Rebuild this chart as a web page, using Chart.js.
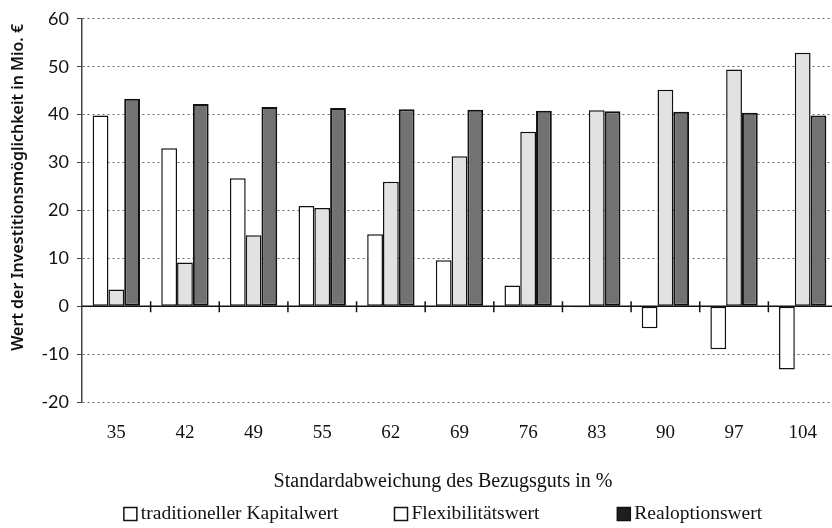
<!DOCTYPE html>
<html>
<head>
<meta charset="utf-8">
<script src="https://cdn.jsdelivr.net/npm/chart.js@4"></script>
<style>
    body { margin: 0; background: #fff; }
    #wrap { width: 832px; height: 528px; overflow: hidden; }
</style>
</head>
<body>
<div id="wrap"><canvas id="chart" width="886" height="528"></canvas></div>
<script>
// Standardabweichung des Bezugsguts in %
const labels = ["35", "42", "49", "55", "62", "69", "76", "83", "90", "97", "104"];

// Werte in Mio. €
const kapitalwert = [39.8, 33.0, 26.7, 20.9, 15.0, 9.6, 4.3, -0.2, -4.6, -9.0, -13.2];
const flexibilitaetswert = [3.5, 9.1, 14.8, 20.5, 26.0, 31.3, 36.4, 40.9, 45.2, 49.4, 52.9];
const realoptionswert = [43.3, 42.2, 41.6, 41.4, 41.1, 41.0, 40.8, 40.7, 40.6, 40.4, 39.8];

const yTicks = { min: -20, max: 60, step: 10 };

const seriesNames = ["traditioneller Kapitalwert", "Flexibilitätswert", "Realoptionswert"];
const legendFills = ["#ffffff", "#ffffff", "#1e1e1e"];

const serif = "'Liberation Serif', 'DejaVu Serif', serif";
const sans = "Lato, 'Noto Sans', sans-serif";
const yTitle = "Wert der Investitionsmöglichkeit in Mio. €";
const xTitle = "Standardabweichung des Bezugsguts in %";

// solid zero line with the category tick marks
const zeroAxis = {
    id: "zeroAxis",
    afterDatasetsDraw(chart) {
        const ctx = chart.ctx;
        const x = chart.scales.x;
        const y0 = chart.scales.y.getPixelForValue(0);
        const half = (x.getPixelForTick(1) - x.getPixelForTick(0)) / 2;
        ctx.save();
        ctx.strokeStyle = "#111";
        ctx.lineWidth = 1.5;
        ctx.beginPath();
        ctx.moveTo(chart.chartArea.left, y0);
        ctx.lineTo(chart.chartArea.right, y0);
        for (let i = 0; i < labels.length; i++) {
            const bx = x.getPixelForTick(i) + half;
            ctx.moveTo(bx, y0 - 5);
            ctx.lineTo(bx, y0 + 6);
        }
        ctx.stroke();
        ctx.restore();
    },
};

// axis titles and the legend row under the chart
const annotations = {
    id: "annotations",
    afterDraw(chart) {
        const ctx = chart.ctx;
        const area = chart.chartArea;
        const mid = chart.width / 2;
        ctx.save();

        ctx.translate(18, area.top + (area.bottom - area.top) * 0.44);
        ctx.rotate(-Math.PI / 2);
        ctx.font = "600 16px 'Noto Sans', sans-serif";
        ctx.fillStyle = "#111";
        ctx.textAlign = "center";
        ctx.textBaseline = "middle";
        ctx.fillText(yTitle, 0, 0);
        ctx.setTransform(1, 0, 0, 1, 0, 0);

        ctx.font = "20px " + serif;
        ctx.textAlign = "center";
        ctx.textBaseline = "alphabetic";
        ctx.fillText(xTitle, mid, 487);

        ctx.font = "19.5px " + serif;
        ctx.textAlign = "left";
        ctx.textBaseline = "middle";
        const box = 13, gap = 4, spacing = [56, 78];
        const widths = seriesNames.map((t) => box + gap + ctx.measureText(t).width);
        const total = widths.reduce((a, b) => a + b, 0) + spacing[0] + spacing[1];
        let cx = mid - total / 2;
        const cy = 514;
        seriesNames.forEach((name, i) => {
            ctx.fillStyle = legendFills[i];
            ctx.fillRect(cx, cy - box / 2, box, box);
            ctx.strokeStyle = "#111";
            ctx.lineWidth = 1.5;
            ctx.strokeRect(cx, cy - box / 2, box, box);
            ctx.fillStyle = "#111";
            ctx.fillText(name, cx + box + gap, cy);
            cx += widths[i] + (spacing[i] || 0);
        });
        ctx.restore();
    },
};

const config = {
    type: "bar",
    data: {
        labels: labels,
        datasets: [
            {
                label: seriesNames[0],
                data: kapitalwert,
                backgroundColor: "#ffffff",
                borderColor: "#111",
                borderWidth: 1.5,
            },
            {
                label: seriesNames[1],
                data: flexibilitaetswert,
                backgroundColor: "#e2e2e2",
                borderColor: "#111",
                borderWidth: 1.5,
            },
            {
                label: seriesNames[2],
                data: realoptionswert,
                backgroundColor: "#727272",
                borderColor: "#111",
                borderWidth: 2,
            },
        ],
    },
    options: {
        responsive: false,
        animation: false,
        layout: {
            padding: { top: 16, left: 0, right: 49, bottom: 68 },
        },
        datasets: {
            bar: {
                barPercentage: 1,
                categoryPercentage: 0.69,
                borderSkipped: false,
            },
        },
        plugins: {
            legend: { display: false },
            tooltip: { enabled: false },
        },
        scales: {
            x: {
                grid: { display: false },
                border: { display: false },
                ticks: {
                    font: { family: serif, size: 19 },
                    color: "#111",
                    padding: 12,
                },
                afterFit(scale) {
                    scale.height = 58;
                },
            },
            y: {
                min: yTicks.min,
                max: yTicks.max,
                ticks: {
                    stepSize: yTicks.step,
                    font: { family: sans, size: 18 },
                    color: "#111",
                    padding: 8,
                },
                grid: {
                    color: (c) => (c.tick.value === 0 ? "rgba(0,0,0,0)" : "#666"),
                    lineWidth: 1,
                    drawTicks: true,
                    tickLength: 5,
                    tickColor: "#444",
                },
                border: {
                    color: "#444",
                    width: 1.5,
                    dash: [2, 3],
                },
                afterFit(scale) {
                    scale.width = 82;
                },
            },
        },
    },
    plugins: [zeroAxis, annotations],
};

new Chart(document.getElementById("chart"), config);
</script>
</body>
</html>
